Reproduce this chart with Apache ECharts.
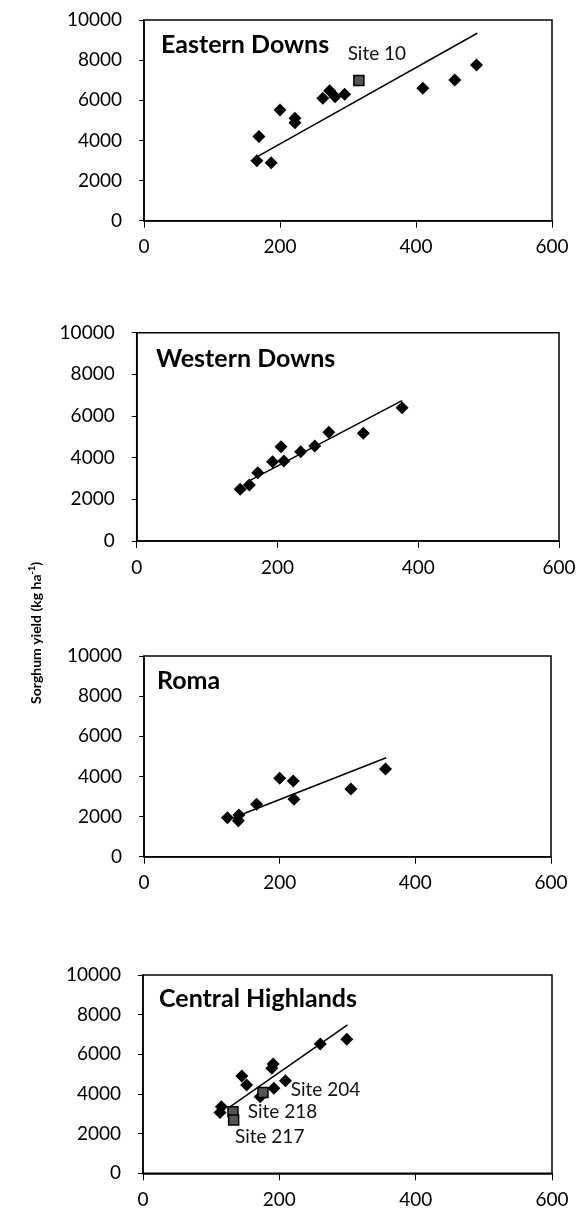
<!DOCTYPE html>
<html>
<head>
<meta charset="utf-8">
<script src="https://cdn.jsdelivr.net/npm/echarts@6/dist/echarts.min.js"></script>
<style>
  html, body { margin: 0; background: #fff; }
  #chart { width: 583px; height: 1218px; }
</style>
</head>
<body>
<div id="chart"></div>
<script>
// panel names
const regions = ['Eastern Downs', 'Western Downs', 'Roma', 'Central Highlands'];

// Eastern Downs
const edX = [166, 169, 187, 200, 222, 222, 263, 273, 281, 295, 410, 457, 489];
const edY = [2990, 4190, 2890, 5520, 5100, 4880, 6100, 6480, 6180, 6300, 6600, 7010, 7760];
const edFitX = [168, 490];
const edFitY = [3220, 9340];
const edSiteX = [316];
const edSiteY = [6980];
const edSiteNames = ['Site 10'];

// Western Downs
const wdX = [147, 160, 172, 193, 205, 209, 233, 253, 273, 322, 377];
const wdY = [2480, 2690, 3280, 3810, 4530, 3840, 4290, 4560, 5220, 5170, 6400];
const wdFitX = [155, 377];
const wdFitY = [2800, 6740];

// Roma
const roX = [123, 140, 139, 166, 200, 220, 221, 305, 356];
const roY = [1940, 2080, 1790, 2610, 3910, 3770, 2860, 3370, 4370];
const roFitX = [127, 357];
const roFitY = [1880, 4930];

// Central Highlands
const chX = [115, 113, 152, 145, 172, 192, 189, 191, 209, 260, 299];
const chY = [3360, 3060, 4450, 4910, 3860, 4290, 5300, 5510, 4670, 6520, 6760];
const chFitX = [128, 300];
const chFitY = [3360, 7480];
const chSiteX = [176, 132, 133];
const chSiteY = [4070, 3100, 2690];
const chSiteNames = ['Site 204', 'Site 218', 'Site 217'];

// axis ranges
const xMax = 600, xStep = 200;
const yMax = 10000, yStep = 2000;

const zip = (a, b, c) => a.map((v, i) => (c ? [v, b[i], c[i]] : [v, b[i]]));

const panels = [
    { pts: zip(edX, edY), fit: zip(edFitX, edFitY), sites: zip(edSiteX, edSiteY, edSiteNames) },
    { pts: zip(wdX, wdY), fit: zip(wdFitX, wdFitY), sites: [] },
    { pts: zip(roX, roY), fit: zip(roFitX, roFitY), sites: [] },
    { pts: zip(chX, chY), fit: zip(chFitX, chFitY), sites: zip(chSiteX, chSiteY, chSiteNames) },
];

// layout
const grids = [
    { left: 144, top: 20, width: 408, height: 200.7 },
    { left: 136.7, top: 332.7, width: 422.3, height: 208.3 },
    { left: 144, top: 656, width: 407, height: 200.7 },
    { left: 143, top: 975, width: 409, height: 198.3 },
];
const titlePos = [[161, 32], [156, 346], [157, 668], [159, 986]];
const siteLabel = {
    'Site 10': { position: 'top', distance: 5, offset: [18, -6] },
    'Site 204': { position: 'right', distance: 22, offset: [0, -3] },
    'Site 218': { position: 'right', distance: 9, offset: [0, 0] },
    'Site 217': { position: 'bottom', distance: 4, offset: [36, -2] },
};

const font = 'Lato';
const series = [];
panels.forEach((p, i) => {
    series.push({
        type: 'scatter', xAxisIndex: i, yAxisIndex: i,
        data: p.pts, symbol: 'diamond', symbolSize: 13,
        itemStyle: { color: '#000', opacity: 1 },
    });
    series.push({
        type: 'line', xAxisIndex: i, yAxisIndex: i,
        data: p.fit, showSymbol: false,
        lineStyle: { color: '#000', width: 1.5 },
    });
    if (p.sites.length) {
        series.push({
            type: 'scatter', xAxisIndex: i, yAxisIndex: i, z: 3,
            data: p.sites.map((d) => ({ value: d, label: siteLabel[d[2]] })),
            symbol: 'rect', symbolSize: 10,
            itemStyle: { color: '#555', borderColor: '#000', borderWidth: 1.5, opacity: 1 },
            label: {
                show: true, formatter: (q) => q.value[2],
                fontFamily: font, fontSize: 19, color: '#111',
            },
        });
    }
});

const chart = echarts.init(document.getElementById('chart'));
chart.setOption({
    animation: false,
    backgroundColor: '#fff',
    title: regions.map((t, i) => ({
        text: t, left: titlePos[i][0], top: titlePos[i][1], padding: 0,
        textStyle: { fontFamily: font, fontWeight: 'bold', fontSize: 25, color: '#000' },
    })),
    grid: grids.map((g) => ({ ...g, show: true, borderColor: '#000', borderWidth: 1.5 })),
    xAxis: grids.map((g, i) => ({
        type: 'value', gridIndex: i, min: 0, max: xMax, interval: xStep,
        splitLine: { show: false },
        axisLine: { show: true, onZero: false, lineStyle: { color: '#000', width: 1.5 } },
        axisTick: { show: true, length: 7, lineStyle: { color: '#000' } },
        axisLabel: { fontFamily: font, fontSize: 19, color: '#000', margin: 17 },
    })),
    yAxis: grids.map((g, i) => ({
        type: 'value', gridIndex: i, min: 0, max: yMax, interval: yStep,
        splitLine: { show: false },
        axisLine: { show: true, onZero: false, lineStyle: { color: '#000', width: 1.5 } },
        axisTick: { show: true, length: 5, lineStyle: { color: '#000' } },
        axisLabel: { fontFamily: font, fontSize: 19, color: '#000', margin: 22, formatter: (v) => String(v) },
    })),
    graphic: [{
        type: 'text', x: 36, y: 633, rotation: Math.PI / 2,
        style: {
            text: '{a|Sorghum yield (kg ha}{s|-1}{a|)}',
            align: 'center', verticalAlign: 'middle',
            rich: {
                a: { fontFamily: font, fontWeight: 'bold', fontSize: 14, fill: '#000' },
                s: { fontFamily: font, fontWeight: 'bold', fontSize: 9, fill: '#000', padding: [0, 0, 7, 0] },
            },
        },
    }],
    series,
});
</script>
</body>
</html>
